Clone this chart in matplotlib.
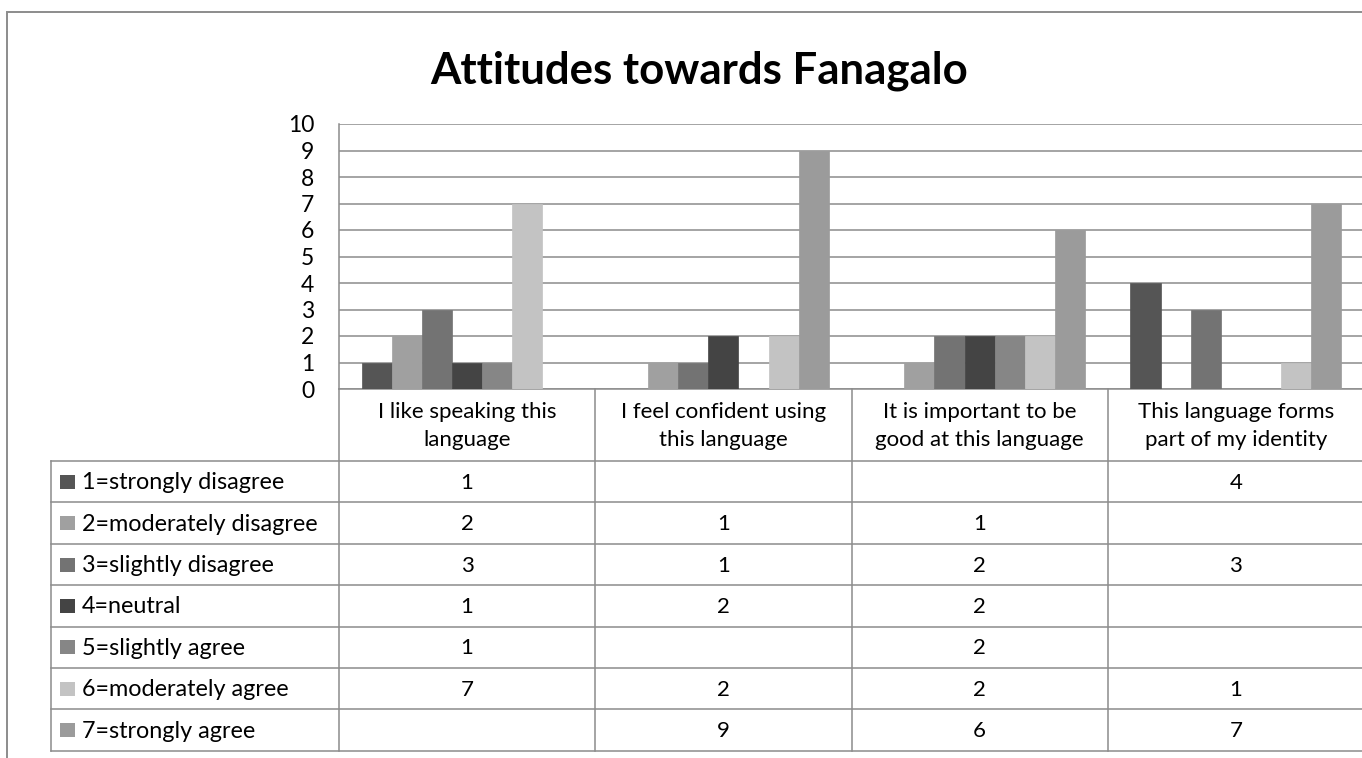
import matplotlib
matplotlib.use("Agg")
import matplotlib.pyplot as plt
from matplotlib.patches import Rectangle

plt.rcParams['font.family'] = ['Lato', 'DejaVu Sans']

categories = [
    "I like speaking this\nlanguage",
    "I feel confident using\nthis language",
    "It is important to be\ngood at this language",
    "This language forms\npart of my identity",
]
series_names = [
    "1=strongly disagree",
    "2=moderately disagree",
    "3=slightly disagree",
    "4=neutral",
    "5=slightly agree",
    "6=moderately agree",
    "7=strongly agree",
]
# None = no response recorded in that cell
values = [
    [1, None, None, 4],
    [2, 1, 1, None],
    [3, 1, 2, 3],
    [1, 2, 2, None],
    [1, None, 2, None],
    [7, 2, 2, 1],
    [None, 9, 6, 7],
]
colors = ["#555555", "#a0a0a0", "#737373", "#444444", "#868686", "#c3c3c3", "#9b9b9b"]
yticks = list(range(0, 11))

W, H = 1362, 758
fig = plt.figure(figsize=(W / 100, H / 100), dpi=100)
fig.patch.set_facecolor("white")

# layout in pixels
px_left, px_right = 339, 1364
px_top, px_bottom = 124, 389
row_h = 41.4
header_bottom = 461
table_left = 51
line_col = "#8c8c8c"
body_fs = 16

ax = fig.add_axes([px_left / W, 1 - px_bottom / H,
                   (px_right - px_left) / W, (px_bottom - px_top) / H])
ax.set_xlim(0, len(categories))
ax.set_ylim(0, 10)
ax.set_facecolor("none")
for s in ["top", "right", "bottom"]:
    ax.spines[s].set_visible(False)
ax.spines["left"].set_color(line_col)
ax.spines["left"].set_linewidth(1.1)
ax.set_yticks(yticks)
ax.set_yticklabels([str(t) for t in yticks], fontsize=16.5)
ax.tick_params(axis="y", length=0, pad=18)
ax.set_xticks([])
ax.yaxis.grid(True, color=line_col, linewidth=1.1)
ax.set_axisbelow(True)

n = len(series_names)
bw = 1 / (n + 1.5)
for i, (vals, c) in enumerate(zip(values, colors)):
    for g, v in enumerate(vals):
        if v is None:
            continue
        ax.bar(g + 0.75 * bw + i * bw, v, width=bw, align="edge", color=c,
               edgecolor=c, linewidth=0.5, zorder=3)

# overlay in pixel coordinates for the frame and data table
ov = fig.add_axes([0, 0, 1, 1])
ov.set_xlim(0, W)
ov.set_ylim(H, 0)
ov.axis("off")
ov.set_zorder(-1)

# outer chart frame
ov.plot([7, 7, W + 20], [H + 20, 12, 12], color=line_col, lw=1.4,
        solid_joinstyle="miter")

ov.text(699, 71, "Attitudes towards Fanagalo", ha="center", va="center",
        fontsize=31.5, fontweight="bold", color="black")

col_w = (px_right - px_left) / len(categories)
col_x = [px_left + k * col_w for k in range(len(categories) + 1)]
row_y = [header_bottom + k * row_h for k in range(n + 1)]
table_bottom = row_y[-1]

# table grid
ov.plot([px_left, W + 20], [px_bottom, px_bottom], color=line_col, lw=1.1)
for y in row_y:
    ov.plot([table_left, W + 20], [y, y], color=line_col, lw=1.1)
ov.plot([table_left, table_left], [header_bottom, table_bottom], color=line_col, lw=1.1)
for x in col_x[:-1]:
    ov.plot([x, x], [px_bottom, table_bottom], color=line_col, lw=1.1)

# header cells
for k, cat in enumerate(categories):
    ov.text(col_x[k] + col_w / 2, (px_bottom + header_bottom) / 2 + 1, cat,
            ha="center", va="center", fontsize=body_fs, linespacing=1.55,
            color="black")

# legend keys, series names and values
for i, name in enumerate(series_names):
    yc = (row_y[i] + row_y[i + 1]) / 2
    ov.add_patch(Rectangle((60, yc - 7), 15, 14, facecolor=colors[i],
                           edgecolor="none"))
    ov.text(82, yc + 1, name, ha="left", va="center", fontsize=body_fs + 0.8,
            color="black")
    for g, v in enumerate(values[i]):
        if v is None:
            continue
        ov.text(col_x[g] + col_w / 2, yc + 1, str(v), ha="center",
                va="center", fontsize=body_fs, color="black")

fig.savefig("out.png", dpi=100, facecolor="white")
